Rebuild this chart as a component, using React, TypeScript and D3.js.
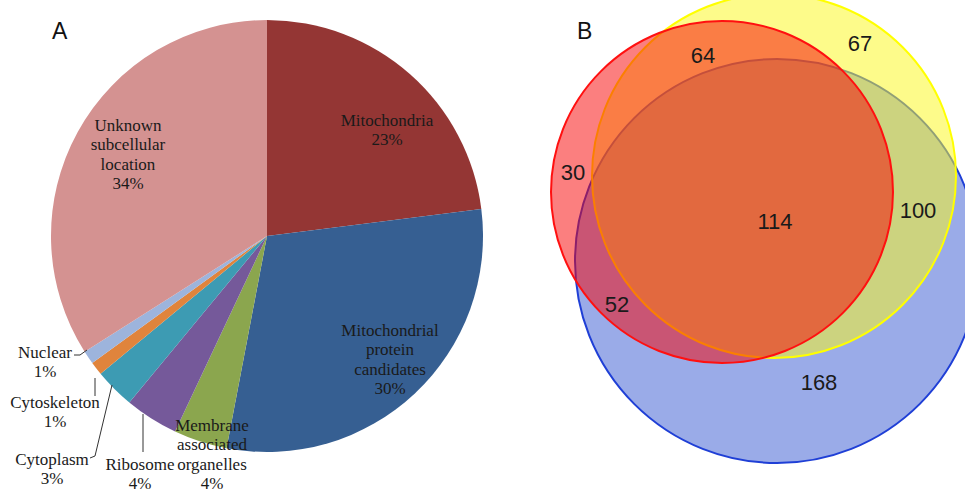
import React from "react";
import * as d3 from "d3";

// ---- Panel A data ----
const categories = [
  "Mitochondria",
  "Mitochondrial protein candidates",
  "Membrane associated organelles",
  "Ribosome",
  "Cytoplasm",
  "Cytoskeleton",
  "Nuclear",
  "Unknown subcellular location",
];
const percentages = [23, 30, 4, 4, 3, 1, 1, 34];
const labelLines = [
  ["Mitochondria"],
  ["Mitochondrial", "protein", "candidates"],
  ["Membrane", "associated", "organelles"],
  ["Ribosome"],
  ["Cytoplasm"],
  ["Cytoskeleton"],
  ["Nuclear"],
  ["Unknown", "subcellular", "location"],
];
const pieColors = ["#943634", "#365f92", "#8ba64e", "#75599a", "#3d9bb3", "#e0843c", "#9db4dc", "#d49291"];

// ---- Panel B data ----
const vennRegions = ["Red only", "Red∩Yellow", "Yellow only", "All three", "Yellow∩Blue", "Red∩Blue", "Blue only"];
const vennCounts = [30, 64, 67, 114, 100, 52, 168];

// ---- layout ----
const PIE = { cx: 267, cy: 236, r: 216 };
const labelPos: [number, number][] = [
  [387, 120],
  [390, 330],
  [212, 425],
  [140, 464],
  [52, 459],
  [55, 402],
  [45, 352],
  [128, 125],
];
const leaders: ([number, number][] | null)[] = [
  null,
  null,
  null,
  [[143, 414], [143, 452]],
  [[112, 385], [95, 456], [90, 458]],
  [[95, 378], [95, 396]],
  [[74, 355], [80, 355], [87, 350]],
  null,
];
const vennPos: [number, number][] = [
  [573, 172],
  [703, 55],
  [860, 43],
  [775, 221],
  [918, 210],
  [617, 304],
  [819, 382],
];
const circles = [
  { cx: 777, cy: 261, r: 202, fill: "rgb(15,55,200)", op: 0.42, stroke: "#1f3fd6" },
  { cx: 774, cy: 176, r: 182, fill: "rgb(251,247,30)", op: 0.52, stroke: "#ffff00" },
  { cx: 722, cy: 192, r: 171, fill: "rgb(247,0,0)", op: 0.5, stroke: "#ff1010" },
];

export default function App() {
  const pie = d3.pie<number>().sort(null).value((d) => d)(percentages);
  const arc = d3.arc<d3.PieArcDatum<number>>().innerRadius(0).outerRadius(PIE.r);
  const line = d3.line();
  const LH = 19.5;
  return (
    <svg width={965} height={493} style={{ position: "absolute", left: 0, top: 0, background: "#fff" }}>
      <rect width={965} height={493} fill="#fff" />
      {/* Panel A */}
      <text x={52} y={39} fontFamily="Liberation Sans, Arial, sans-serif" fontSize={23} fill="#111">A</text>
      <g transform={`translate(${PIE.cx},${PIE.cy})`}>
        {pie.map((d, i) => (
          <path key={i} d={arc(d) || ""} fill={pieColors[i]} />
        ))}
      </g>
      {leaders.map((l, i) =>
        l ? <path key={i} d={line(l) || ""} fill="none" stroke="#333" strokeWidth={1} /> : null
      )}
      {categories.map((c, i) => {
        const lines = [...labelLines[i], `${percentages[i]}%`];
        const [x, y] = labelPos[i];
        return (
          <text key={c} x={x} y={y} textAnchor="middle" fontFamily="Liberation Serif, Times New Roman, serif" fontSize={17} fill="#1a1a1a">
            {lines.map((t, j) => (
              <tspan key={j} x={x} y={y + j * LH} dy="0.35em">{t}</tspan>
            ))}
          </text>
        );
      })}
      {/* Panel B */}
      {circles.map((c, i) => (
        <circle key={i} cx={c.cx} cy={c.cy} r={c.r} fill={c.fill} fillOpacity={c.op} stroke={c.stroke} strokeWidth={2} />
      ))}
      <text x={577} y={39} fontFamily="Liberation Sans, Arial, sans-serif" fontSize={23} fill="#111">B</text>
      {vennRegions.map((r, i) => (
        <text key={r} x={vennPos[i][0]} y={vennPos[i][1]} dy="0.35em" textAnchor="middle" fontFamily="Liberation Sans, Arial, sans-serif" fontSize={22} fill="#1a1a1a">
          {vennCounts[i]}
        </text>
      ))}
    </svg>
  );
}
